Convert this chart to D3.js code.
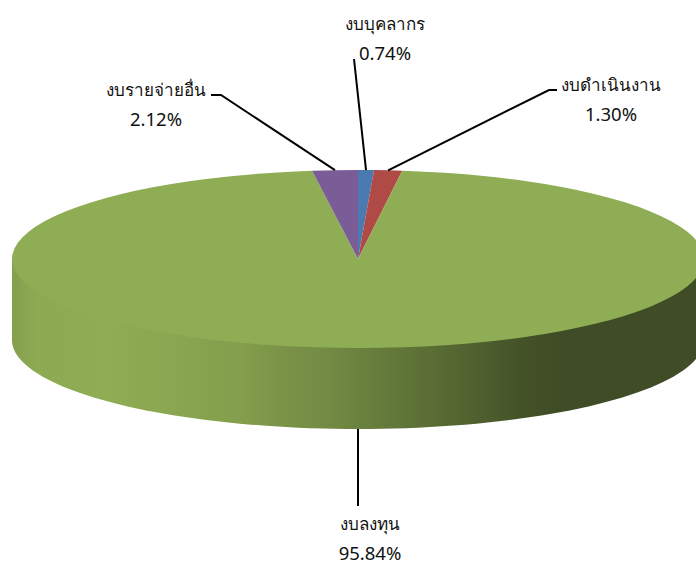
<!DOCTYPE html>
<html>
<head>
<meta charset="utf-8">
<script src="https://cdn.jsdelivr.net/npm/d3@7"></script>
<style>
  html, body { margin: 0; padding: 0; background: #fff; }
  text { font-family: "Noto Sans", "Open Sans", "DejaVu Sans", sans-serif; font-size: 17px; fill: #111; text-anchor: middle; }
  text.share { font-size: 18.5px; }
</style>
</head>
<body>
<svg id="chart" width="696" height="562" style="display:block"></svg>
<script>
"use strict";

// Values in clockwise order from 12 o'clock
var categories = ["งบบุคลากร", "งบดำเนินงาน", "งบลงทุน", "งบรายจ่ายอื่น"];
var shares = [0.74, 1.30, 95.84, 2.12];
var shareLabels = ["0.74%", "1.30%", "95.84%", "2.12%"];
var sliceColors = ["#4a7ab0", "#b04a47", "#8fad54", "#7a5c96"];

// Label layout, same order as categories
var labelX = [385, 611, 370, 156];
var labelY = [24, 85, 524, 90];
var leaderElbows = [[[354, 59]], [[557, 90], [549, 90]], [[358, 506]], [[211, 95], [221, 95]]];

var cx = 358, cy = 259, rx = 346, ry = 89, depth = 81;

var svg = d3.select("#chart");

// Side shading: the green of the top face darkened by k at pixel x
var shadeX = [12, 35, 110, 235, 284, 330, 400, 450, 520, 560, 696];
var shadeK = [0.92, 0.98, 1, 0.92, 0.85, 0.8, 0.68, 0.6, 0.48, 0.44, 0.44];
var sideGradient = svg.append("defs").append("linearGradient")
  .attr("id", "side")
  .attr("gradientUnits", "userSpaceOnUse")
  .attr("x1", 12).attr("x2", 696).attr("y1", 0).attr("y2", 0);
shadeX.forEach(function (x, i) {
  var c = d3.rgb(sliceColors[2]);
  sideGradient.append("stop")
    .attr("offset", (x - 12) / (696 - 12))
    .attr("stop-color", d3.rgb(c.r * shadeK[i], c.g * shadeK[i], c.b * shadeK[i]).formatHex());
});

// Side wall: lower rim pushed down by the depth, closed straight across behind the top face
var rim = d3.range(0, 181, 2).map(function (deg) {
  var a = deg * Math.PI / 180;
  return [cx - rx * Math.cos(a), cy + ry * Math.sin(a) + depth];
});
var wall = [[cx - rx, cy]].concat(rim, [[cx + rx, cy]]);
svg.append("path")
  .attr("d", d3.line()(wall) + "Z")
  .attr("fill", "url(#side)");

// Top face: a flat pie squashed vertically
var pie = d3.pie().sort(null).value(function (d) { return d; });
var arc = d3.arc().innerRadius(0).outerRadius(rx);
var slices = pie(shares);

svg.append("g")
  .attr("transform", "translate(" + cx + "," + cy + ") scale(1," + (ry / rx) + ")")
  .selectAll("path")
  .data(slices)
  .enter()
  .append("path")
  .attr("d", arc)
  .attr("fill", function (d, i) { return sliceColors[i]; });

// Leader lines start at the middle of each slice's rim
var leader = d3.line();
svg.append("g")
  .selectAll("path")
  .data(slices)
  .enter()
  .append("path")
  .attr("fill", "none")
  .attr("stroke", "#000")
  .attr("stroke-width", 2)
  .attr("d", function (d, i) {
    var mid = (d.startAngle + d.endAngle) / 2;
    var start = [cx + rx * Math.sin(mid), cy - ry * Math.cos(mid)];
    if (Math.cos(mid) < 0) start[1] += depth;
    var points = leaderElbows[i].slice().reverse();
    // keep the bottom leader straight
    if (Math.abs(start[0] - points[0][0]) < 2) start[0] = points[0][0];
    return leader([start].concat(points));
  });

// Labels
var labels = svg.append("g").selectAll("g").data(categories).enter().append("g");
labels.append("text")
  .attr("x", function (d, i) { return labelX[i]; })
  .attr("y", function (d, i) { return labelY[i] + 6; })
  .text(function (d) { return d; });
labels.append("text")
  .attr("class", "share")
  .attr("x", function (d, i) { return labelX[i]; })
  .attr("y", function (d, i) { return labelY[i] + 36; })
  .text(function (d, i) { return shareLabels[i]; });
</script>
</body>
</html>
